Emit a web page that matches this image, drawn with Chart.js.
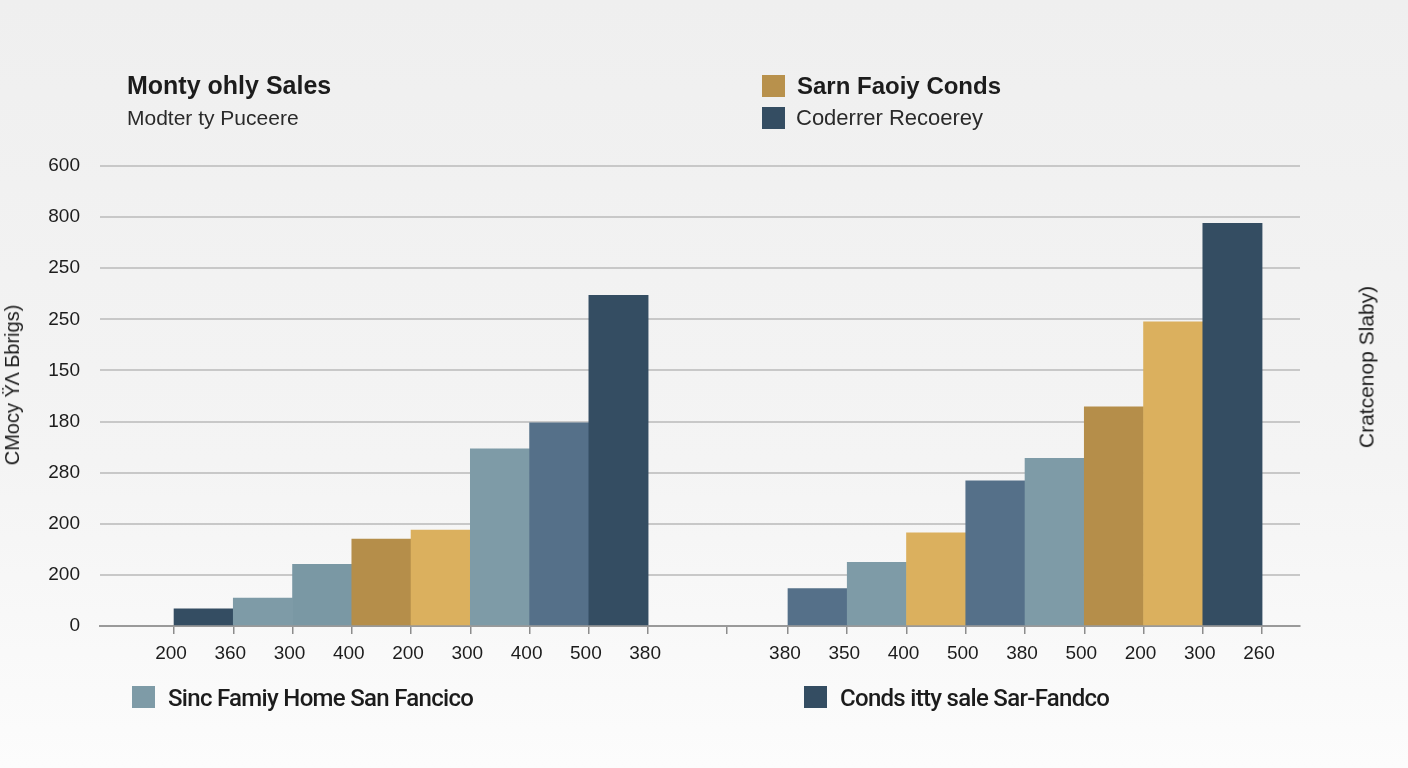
<!DOCTYPE html>
<html>
<head>
<meta charset="utf-8">
<script src="https://cdn.jsdelivr.net/npm/chart.js@4/dist/chart.umd.min.js"></script>
<style>
  body { margin: 0; width: 1408px; height: 768px; overflow: hidden;
         background: linear-gradient(#efefef, #f4f4f4 60%, #fcfcfc);
         font-family: "Liberation Sans", Arial, sans-serif; color: #1c1c1c; }
  #wrap { position: relative; width: 1408px; height: 768px; }
  canvas { position: absolute; left: 0; top: 0; }
  .txt { position: absolute; white-space: nowrap; line-height: 1; }
  .sq { position: absolute; width: 23px; height: 22px; }
</style>
</head>
<body>
<div id="wrap">
  <canvas id="myChart" width="1408" height="768"></canvas>

  <div class="txt" style="left:127px; top:73px; font-size:25px; font-weight:bold;">Monty ohly Sales</div>
  <div class="txt" style="left:127px; top:107px; font-size:21px; color:#2a2a2a;">Modter ty Puceere</div>

  <div class="sq" style="left:762px; top:75px; background:#b8914c;"></div>
  <div class="txt" style="left:797px; top:74px; font-size:24px; font-weight:bold;">Sarn Faoiy Conds</div>
  <div class="sq" style="left:762px; top:107px; background:#344d62;"></div>
  <div class="txt" style="left:796px; top:107px; font-size:22px; color:#2a2a2a;">Coderrer Recoerey</div>

  <div class="txt" style="left:12px; top:385px; font-size:20px; transform: translate(-50%, -50%) rotate(-90deg);">CMocy ΫΛ Бbrigs)</div>
  <div class="txt" style="left:1366px; top:367px; font-size:21px; transform: translate(-50%, -50%) rotate(-90deg);">Cratcenop Slaby)</div>

  <div class="sq" style="left:132px; top:686px; background:#7e9ba7;"></div>
  <div class="txt" style="left:168px; top:686px; font-size:24px; font-family:Roboto; font-weight:500; letter-spacing:-0.7px;">Sinc Famiy Home San Fancico</div>
  <div class="sq" style="left:804px; top:686px; background:#344d62;"></div>
  <div class="txt" style="left:840px; top:686px; font-size:24px; font-family:Roboto; font-weight:500; letter-spacing:-0.7px;">Conds itty sale Sar-Fandco</div>
</div>

<script>
// tick labels as printed on the picture
const yTickLabels = ['0', '200', '200', '280', '180', '150', '250', '250', '800', '600'];
const leftLabels = ['200', '360', '300', '400', '200', '300', '400', '500', '380'];
const rightLabels = ['380', '350', '400', '500', '380', '500', '200', '300', '260'];

// bar heights (in y-axis units, 50 per gridline)
const leftValues = [16.7, 27.2, 60.4, 85, 93.9, 173.2, 198.8, 323.5];
const rightValues = [36.7, 62.3, 91.2, 142, 164, 214.3, 297.5, 394];

const navy = '#344d62';
const steel = '#7e9ba7';
const steel2 = '#7a98a4';
const slate = '#557089';
const ochre = '#b58e4a';
const gold = '#dbb05e';

const leftColors = [navy, steel, steel2, ochre, gold, steel, slate, navy];
const rightColors = [slate, steel, gold, slate, steel, ochre, gold, navy];

// where the second group starts on the x axis, and the lone tick in the gap
const RIGHT_START = 10.36;
const GAP_TICK = 9.32;

const tickPositions = [];
const tickLabels = [];
leftLabels.forEach((l, i) => { tickPositions.push(i); tickLabels.push(l); });
tickPositions.push(GAP_TICK); tickLabels.push('');
rightLabels.forEach((l, i) => { tickPositions.push(RIGHT_START + i); tickLabels.push(l); });

const leftData = leftValues.map((v, i) => ({ x: i + 0.5, y: v }));
const rightData = rightValues.map((v, i) => ({ x: RIGHT_START + i + 0.5, y: v }));

const tickFont = { family: '"Liberation Sans", Arial, sans-serif', size: 19 };

const ctx = document.getElementById('myChart').getContext('2d');
const myChart = new Chart(ctx, {
    type: 'bar',
    data: {
        datasets: [{
            label: 'left',
            data: leftData,
            backgroundColor: leftColors,
            borderWidth: 0
        }, {
            label: 'right',
            data: rightData,
            backgroundColor: rightColors,
            borderWidth: 0
        }]
    },
    options: {
        responsive: false,
        animation: false,
        grouped: false,
        barPercentage: 1,
        categoryPercentage: 1,
        layout: { padding: { top: 166, left: 0, right: 108, bottom: 92 } },
        plugins: { legend: { display: false }, tooltip: { enabled: false } },
        scales: {
            x: {
                type: 'linear',
                offset: false,
                min: -1.249,
                max: 19.0,
                afterBuildTicks: scale => {
                    scale.ticks = tickPositions.map(v => ({ value: v }));
                },
                afterFit: scale => { scale.height = 50; },
                ticks: {
                    autoSkip: false,
                    maxRotation: 0,
                    padding: 8,
                    labelOffset: -3,
                    color: '#1c1c1c',
                    font: tickFont,
                    callback: (value, index) => tickLabels[index]
                },
                grid: {
                    offset: false,
                    drawOnChartArea: false,
                    drawTicks: true,
                    tickLength: 8,
                    color: '#8c8c8c',
                    lineWidth: 1.5
                },
                border: { display: true, color: '#9a9a9a', width: 2 }
            },
            y: {
                min: 0,
                max: 450,
                afterFit: scale => { scale.width = 100; },
                ticks: {
                    stepSize: 50,
                    padding: 20,
                    color: '#1c1c1c',
                    font: tickFont,
                    callback: (value, index) => yTickLabels[index]
                },
                grid: { drawTicks: false, color: '#c8c8c8', lineWidth: 2 },
                border: { display: false }
            }
        }
    }
});
</script>
</body>
</html>
